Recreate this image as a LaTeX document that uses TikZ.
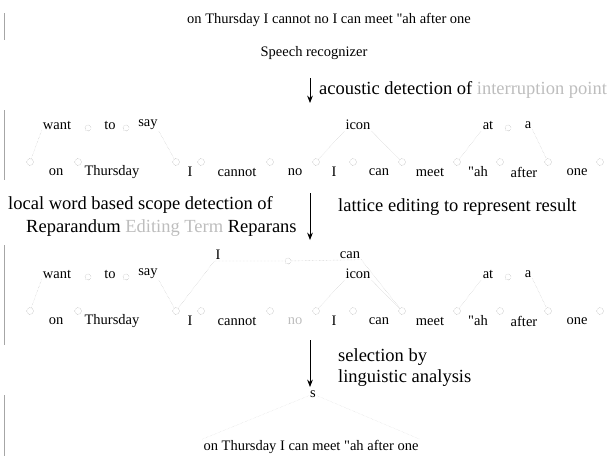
\documentclass[tikz,border=0pt]{standalone}
\usepackage{fontspec}
\setmainfont{Liberation Serif}
\usepackage{xcolor}
\usetikzlibrary{arrows.meta,positioning}
\definecolor{faded}{HTML}{BDBDBD}
\definecolor{dotgray}{HTML}{8C8C8C}
\tikzset{
  wd/.style={font=\fontsize{14.5}{16}\selectfont,inner sep=1pt},
  snt/.style={font=\fontsize{14.5}{16}\selectfont,inner sep=1pt},
  lbl/.style={font=\fontsize{18.5}{20}\selectfont,inner sep=1pt,anchor=west},
  st/.style={circle,draw=dotgray,densely dotted,minimum size=7pt,inner sep=0pt},
  lk/.style={gray!50,densely dotted,thin},
  ar/.style={-{Stealth[length=2.6mm,width=2mm]},line width=0.8pt},
  bar/.style={gray!70,thin}
}
% one word lattice: #1 name prefix, #2 y of the word row, #3 colour of "no"
\newcommand{\wlat}[3]{%
  \foreach \cx [count=\i] in {30,78,176,201,270,316,353,402,457,500,548,600}
    {\node[st] (#1s\i) at (\cx,#2-10) {};}
  \foreach \wx/\w [count=\i] in {56/on,112/Thursday,190/I,237/cannot,295/{\textcolor{#3}{no}},334/I,379/can,430/meet,478/{\textquotedbl ah},524/after,577/one}
    {\node[wd] (#1w\i) at (\wx,#2) {\w};}
  \node[wd] (#1want) at (57,#2-47) {want};
  \node[st,minimum size=6pt] (#1t1) at (88,#2-44) {};
  \node[wd] (#1to) at (110,#2-47) {to};
  \node[st,minimum size=6pt] (#1t2) at (126,#2-44) {};
  \node[wd] (#1say) at (148,#2-47) {say};
  \node[wd] (#1icon) at (358,#2-47) {icon};
  \node[wd] (#1at) at (488,#2-47) {at};
  \node[st,minimum size=6pt] (#1t3) at (508,#2-44) {};
  \node[wd] (#1a) at (528,#2-47) {a};
  \draw[lk] (#1s1) -- (#1want.south west) (#1say.south east) -- (#1s3);
  \draw[lk] (#1s6) -- (#1icon.south west) (#1icon.south east) -- (#1s8);
  \draw[lk] (#1s9) -- (#1at.south west) (#1a.south east) -- (#1s11);}

\begin{document}
\begin{tikzpicture}[x=1pt,y=-1pt]
\useasboundingbox (0,0) rectangle (609,456);
\node[snt] (src) at (329,20) {on Thursday I cannot no I can meet \textquotedbl ah after one};
\node[snt] (rec) at (314,53) {Speech recognizer};
\coordinate (a1s) at (310,78);
\coordinate (a1e) at (310,103);
\draw[ar] (a1s) -- (a1e);
\node[lbl] (op1) at (318,90) {acoustic detection of \textcolor{faded}{interruption point}};
\wlat{A}{172}{black}
\node[lbl] (op2) at (7,205) {local word based scope detection of};
\node[lbl] (op2b) at (25,228) {Reparandum \textcolor{faded}{Editing Term} Reparans};
\coordinate (a2s) at (310,193);
\coordinate (a2e) at (310,240);
\draw[ar] (a2s) -- (a2e);
\node[lbl] (op3) at (337,207) {lattice editing to represent result};
\wlat{B}{321}{faded}
\node[wd] (BI) at (218,255) {I};
\node[st,minimum size=6pt] (Bm) at (288,261) {};
\node[wd] (Bcan) at (350,255) {can};
\draw[lk] (Bs3) -- (BI.south west) -- (Bm) -- (Bcan.south east) -- (Bs8);
\coordinate (a3s) at (310,340);
\coordinate (a3e) at (310,387);
\draw[ar] (a3s) -- (a3e);
\node[lbl] (op4) at (337,357) {selection by};
\node[lbl] (op4b) at (337,378) {linguistic analysis};
\node[wd] (s) at (313,394) {s};
\node[snt] (res) at (311,447) {on Thursday I can meet \textquotedbl ah after one};
\draw[lk,gray!30] (s) -- (res.north west) (s) -- (res.north east);
% page edge
\draw[bar] (4,13) -- (4,40) (4,110) -- (4,180) (4,245) -- (4,345) (4,395) -- (4,456);
\end{tikzpicture}
\end{document}
